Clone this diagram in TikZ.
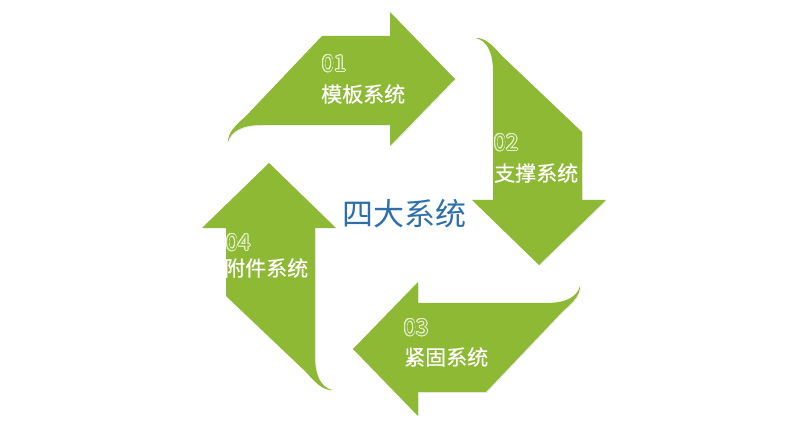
\documentclass[tikz,border=0pt]{standalone}
\usepackage{fontspec}
\setmainfont{Noto Sans CJK SC}
\newfontfamily\labelfont[FakeBold=0.6]{Noto Sans CJK SC}
\usepackage{contour}
\contourlength{0.7pt}
\usetikzlibrary{shadows}
\definecolor{arrowgreen}{HTML}{8DB935}
\definecolor{titleblue}{HTML}{2E6FA9}
\definecolor{digitline}{HTML}{E4F0CC}
\tikzset{
  arrowshape/.style={fill=arrowgreen, draw=none, drop shadow={shadow xshift=1pt, shadow yshift=-1pt, opacity=0.12}},
  numlabel/.style={anchor=west, inner sep=0pt, font=\fontsize{22}{22}\selectfont},
  namelabel/.style={anchor=west, inner sep=0pt, text=white, font=\labelfont\fontsize{21}{21}\selectfont},
  titlelabel/.style={inner sep=0pt, text=titleblue, font=\fontsize{31}{31}\selectfont}
}
\newcommand{\hollownum}[1]{\contour{digitline}{\textcolor{arrowgreen}{#1}}}
\begin{document}
\begin{tikzpicture}[x=1pt,y=-1pt]
\useasboundingbox (0,0) rectangle (800,435);
\fill[white] (0,0) rectangle (800,435);
\foreach \r in {0,90,180,270}{
  \fill[arrowshape, rotate around={\r:(404,214)}]
    (228,142) .. controls (228,134) and (233,127) .. (245,117)
    -- (322,36) -- (390,36) -- (390,12) -- (455,79) -- (390,146) -- (390,125)
    -- (262,125) .. controls (242,125) and (231,131) .. (228,142) -- cycle;
}
\node[titlelabel] (title) at (404,214) {四大系统};
\node[numlabel] (n1) at (322,64) {\hollownum{01}};
\node[namelabel] (t1) at (321,94) {模板系统};
\node[numlabel] (n2) at (494,143) {\hollownum{02}};
\node[namelabel] (t2) at (494,173) {支撑系统};
\node[numlabel] (n3) at (404,328) {\hollownum{03}};
\node[namelabel] (t3) at (404,357) {紧固系统};
\node[numlabel] (n4) at (226,243) {\hollownum{04}};
\node[namelabel] (t4) at (224,268) {附件系统};
\end{tikzpicture}
\end{document}
